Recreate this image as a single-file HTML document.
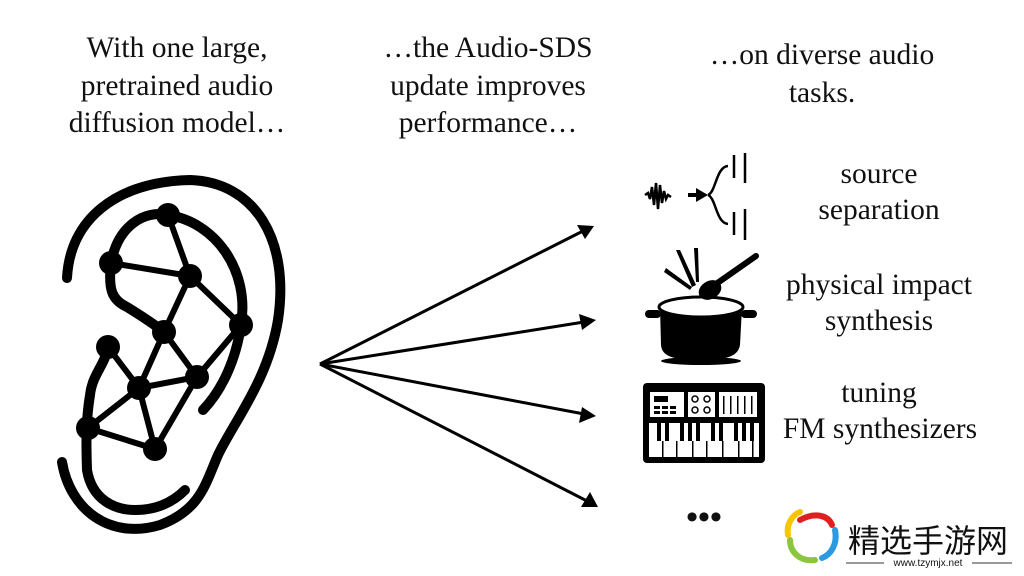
<!DOCTYPE html>
<html><head><style>
body{margin:0;background:#fff}
svg{display:block}
text{font-family:"Liberation Serif",serif;fill:#111}
</style></head><body>
<svg width="1024" height="576" viewBox="0 0 1024 576" xmlns="http://www.w3.org/2000/svg">
<g font-size="29.5" text-anchor="middle">
<text x="177" y="57">With one large,</text>
<text x="177" y="95">pretrained audio</text>
<text x="177" y="132">diffusion model…</text>
<text x="488" y="57">…the Audio-SDS</text>
<text x="488" y="95">update improves</text>
<text x="488" y="132">performance…</text>
<text x="822" y="64">…on diverse audio</text>
<text x="822" y="102">tasks.</text>
<text x="879" y="183">source</text>
<text x="879" y="219">separation</text>
<text x="879" y="294">physical impact</text>
<text x="879" y="330">synthesis</text>
<text x="879" y="402">tuning</text>
<text x="880" y="438">FM synthesizers</text>
</g>
<text x="704" y="528" font-size="34" text-anchor="middle" font-weight="bold">•••</text>
<!-- ear -->
<g fill="none" stroke="#000" stroke-width="10" stroke-linecap="round" stroke-linejoin="round">
<path d="M67,278 C70,220 115,182 190,180 C255,182 290,240 278,320 C268,380 235,420 218,455 C205,485 200,510 160,525 C110,540 70,510 62,462"/>
<path d="M111,263 C118,225 145,210 168,215 C215,222 250,270 241,325 C236,360 222,390 203,410"/>
<path d="M111,263 C108,290 112,300 127,307 C145,318 155,325 164,332"/>
<path d="M108,347 C105,365 92,375 90,395 C86,420 86,440 87,470 C92,500 115,510 135,510 C160,510 175,500 185,490"/>
</g>
<g stroke="#000" stroke-width="6" stroke-linecap="round">
<line x1="168" y1="215" x2="190" y2="276"/>
<line x1="111" y1="263" x2="190" y2="276"/>
<line x1="190" y1="276" x2="241" y2="325"/>
<line x1="190" y1="276" x2="164" y2="332"/>
<line x1="164" y1="332" x2="197" y2="377"/>
<line x1="241" y1="325" x2="197" y2="377"/>
<line x1="164" y1="332" x2="139" y2="388"/>
<line x1="108" y1="347" x2="139" y2="388"/>
<line x1="197" y1="377" x2="139" y2="388"/>
<line x1="139" y1="388" x2="88" y2="428"/>
<line x1="139" y1="388" x2="155" y2="449"/>
<line x1="88" y1="428" x2="155" y2="449"/>
<line x1="197" y1="377" x2="155" y2="449"/>
</g>
<g fill="#000">
<circle cx="168" cy="215" r="12"/><circle cx="111" cy="263" r="12"/><circle cx="190" cy="276" r="12"/>
<circle cx="241" cy="325" r="12"/><circle cx="164" cy="332" r="12"/><circle cx="108" cy="347" r="12"/>
<circle cx="197" cy="377" r="12"/><circle cx="139" cy="388" r="12"/><circle cx="88" cy="428" r="12"/>
<circle cx="155" cy="449" r="12"/>
</g>
<!-- arrows -->
<g stroke="#000" stroke-width="3">
<line x1="320" y1="364" x2="583" y2="231"/>
<line x1="320" y1="364" x2="584" y2="322"/>
<line x1="320" y1="364" x2="584" y2="414"/>
<line x1="320" y1="364" x2="587" y2="501"/>
</g>
<g fill="#000">
<polygon points="594,226 577,225 585,239"/>
<polygon points="596,320 579,314 582,330"/>
<polygon points="596,416 582,407 579,423"/>
<polygon points="598,507 590,492 581,507"/>
</g>
<!-- source separation icon -->
<g fill="none" stroke="#000" stroke-width="2.5">
<path d="M645,195 l3,-2 2,6 2,-12 2,18 2,-22 2,26 2,-24 2,18 2,-12 2,8 2,-4 3,2"/>
<path d="M708,195 C716,192 716,167 728,166 M708,195 C716,198 716,223 728,224"/>
<line x1="734" y1="155" x2="734" y2="178"/><line x1="745" y1="153" x2="745" y2="183"/>
<line x1="734" y1="212" x2="734" y2="235"/><line x1="745" y1="209" x2="745" y2="240"/>
<line x1="688" y1="195" x2="697" y2="195" stroke-width="4"/>
</g>
<polygon points="696,188 708,195 696,202" fill="#000"/>
<!-- pot icon -->
<g fill="#000">
<path d="M660,307 L742,307 L740,345 C738,356 728,360 700,360 C672,360 662,356 661,345 Z"/>
<ellipse cx="701" cy="307" rx="42" ry="10" fill="#fff" stroke="#000" stroke-width="3"/>
<ellipse cx="701" cy="361" rx="40" ry="4"/>
<rect x="645" y="310" width="16" height="8" rx="4"/><rect x="741" y="310" width="16" height="8" rx="4"/>
<ellipse cx="710" cy="290" rx="12" ry="9" transform="rotate(-30 710 290)"/>
<line x1="716" y1="284" x2="756" y2="256" stroke="#000" stroke-width="6" stroke-linecap="round"/>
<polygon points="676,250 680,250 696,285 692,287"/><polygon points="664,272 666,268 692,287 690,290"/><polygon points="694,248 698,248 699,282 696,282"/>
</g>
<!-- keyboard icon -->
<rect x="643" y="383" width="122" height="80" rx="4" fill="#000"/>
<g fill="#fff">
<rect x="650" y="392" width="34" height="25"/><rect x="688" y="392" width="27" height="25"/><rect x="719" y="392" width="38" height="25"/>
<rect x="649" y="423" width="110" height="34"/>
</g>
<g fill="#000">
<rect x="654" y="396" width="14" height="6"/>
<rect x="654" y="406" width="6" height="3"/><rect x="662" y="406" width="6" height="3"/><rect x="670" y="406" width="6" height="3"/>
<rect x="654" y="411" width="6" height="3"/><rect x="662" y="411" width="6" height="3"/><rect x="670" y="411" width="6" height="3"/>
<rect x="723" y="396" width="1.5" height="18"/><rect x="730" y="396" width="1.5" height="18"/><rect x="737" y="396" width="1.5" height="18"/><rect x="744" y="396" width="1.5" height="18"/><rect x="751" y="396" width="1.5" height="18"/>
<rect x="657" y="423" width="4" height="18"/><rect x="665" y="423" width="4" height="18"/><rect x="680" y="423" width="4" height="18"/><rect x="688" y="423" width="4" height="18"/><rect x="696" y="423" width="4" height="18"/><rect x="711" y="423" width="4" height="18"/><rect x="719" y="423" width="4" height="18"/><rect x="734" y="423" width="4" height="18"/><rect x="742" y="423" width="4" height="18"/><rect x="750" y="423" width="4" height="18"/>
<rect x="662" y="441" width="1.5" height="16"/><rect x="676" y="441" width="1.5" height="16"/><rect x="692" y="441" width="1.5" height="16"/><rect x="706" y="441" width="1.5" height="16"/><rect x="722" y="441" width="1.5" height="16"/><rect x="738" y="441" width="1.5" height="16"/><rect x="752" y="441" width="1.5" height="16"/>
</g>
<g fill="none" stroke="#000" stroke-width="1.5"><circle cx="695" cy="399" r="3"/><circle cx="707" cy="399" r="3"/><circle cx="695" cy="410" r="3"/><circle cx="707" cy="410" r="3"/></g>
<!-- watermark -->
<g fill="none" stroke-width="6" stroke-linecap="round">
<path d="M800,520 C815,512 828,515 832,525" stroke="#e02020"/>
<path d="M835,530 C838,545 830,555 822,558" stroke="#2a9be0"/>
<path d="M815,560 C800,562 790,552 790,540" stroke="#8cc63f"/>
<path d="M788,535 C786,525 792,515 800,512" stroke="#f7c600"/>
</g>
<text x="848" y="552" font-size="32" style="font-family:'Liberation Sans','Noto Sans CJK SC',sans-serif">精选手游网</text>
<line x1="846" y1="563" x2="884" y2="563" stroke="#333"/><line x1="972" y1="563" x2="1012" y2="563" stroke="#333"/>
<text x="928" y="566" font-size="10" text-anchor="middle" style="font-family:'Liberation Sans',sans-serif">www.tzymjx.net</text>
</svg>
</body></html>
